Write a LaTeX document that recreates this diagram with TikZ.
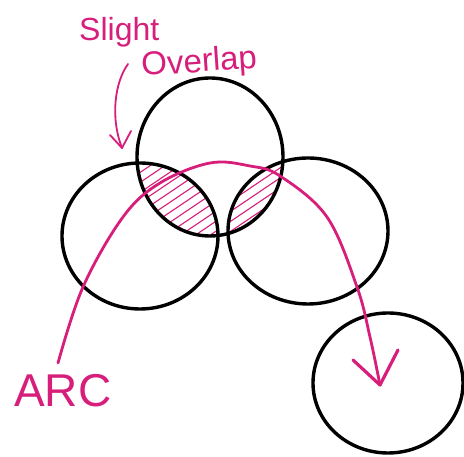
\documentclass[tikz,border=0pt]{standalone}
\usepackage{fontspec}
\setmainfont{Liberation Sans}
\usetikzlibrary{shapes.geometric}
\definecolor{ink}{RGB}{214,30,122}
\tikzset{
  bubble/.style={ellipse, draw=black, line width=3.4pt, inner sep=0pt},
  pinkline/.style={draw=ink, line width=2.8pt, line cap=round, line join=round},
  hatch/.style={draw=ink, line width=1.1pt},
  scribble/.style={text=ink, inner sep=0pt, anchor=base west},
}
\begin{document}
\begin{tikzpicture}[x=1pt,y=1pt]
\useasboundingbox (0,0) rectangle (464,457);
% hatching in the overlaps
\begin{scope}
  \clip (210,300) ellipse (73 and 79);
  \clip (140,221) ellipse (78 and 73);
  \foreach \k in {-20,...,30} {
    \draw[hatch] (0,{150+\k*10}) -- (400,{150+\k*10+270});
  }
\end{scope}
\begin{scope}
  \clip (210,300) ellipse (73 and 79);
  \clip (308,226) ellipse (80 and 73);
  \foreach \k in {-30,...,30} {
    \draw[hatch] (0,{150+\k*10}) -- (400,{150+\k*10+270});
  }
\end{scope}
% circles
\node[bubble, minimum width=146pt, minimum height=158pt] (topc) at (210,300) {};
\node[bubble, minimum width=156pt, minimum height=146pt] (leftc) at (140,221) {};
\node[bubble, minimum width=160pt, minimum height=146pt] (rightc) at (308,226) {};
\node[bubble, minimum width=150pt, minimum height=140pt] (target) at (388,74) {};
% arc
\coordinate (arcstart) at (58,94);
\coordinate (arctip) at (380,72);
\draw[pinkline] plot[smooth, tension=0.6] coordinates {(58,94) (83,170) (123,240) (160,274) (210,294) (250,291) (280,281) (327,240) (357,170) (370,120) (380,72)};
\draw[pinkline, line width=3.2pt] (353,97) -- (arctip) -- (398,107);
% labels
\node[scribble, font=\fontsize{32}{32}\selectfont] (slight) at (79,416) {Slight};
\node[scribble, font=\fontsize{33}{33}\selectfont, rotate=4] (overlap) at (142,381) {Overlap};
\node[scribble, font=\fontsize{46}{46}\selectfont] (arc) at (14,50) {ARC};
% small pointer
\coordinate (ptrstart) at (128,393);
\coordinate (ptrtip) at (122,309);
\draw[pinkline, line width=1.8pt] (ptrstart) .. controls (115,375) and (110,340) .. (ptrtip);
\draw[pinkline, line width=1.8pt] (110,322) -- (ptrtip) -- (131,326);
\end{tikzpicture}
\end{document}
